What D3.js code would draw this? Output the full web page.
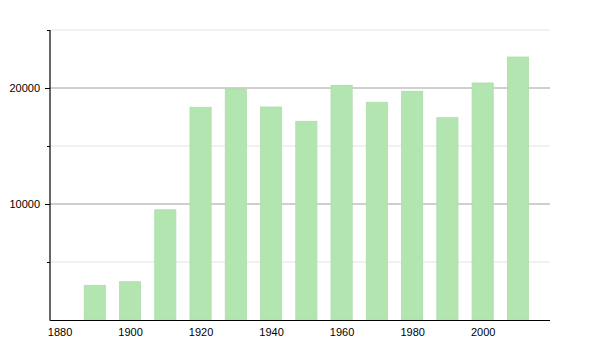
<!DOCTYPE html>
<html><head><meta charset="utf-8">
<script src="https://cdn.jsdelivr.net/npm/d3@7"></script>
<style>body{margin:0;background:#fff;} text{font-family:"Liberation Sans",Arial,sans-serif;}</style>
</head><body>
<svg id="c" width="600" height="350"></svg>
<script>
const years = [1890,1900,1910,1920,1930,1940,1950,1960,1970,1980,1990,2000,2010];
const population = [2990,3300,9500,18340,19920,18360,17130,20230,18770,19720,17440,20430,22670];
const xTicks = [1880,1900,1920,1940,1960,1980,2000];
const yMajor = [10000,20000];
const yMinor = [5000,15000,25000];

const svg = d3.select("#c");
const x = d3.scaleLinear().domain([1877.3, 2019.1]).range([50, 550]);
const y = d3.scaleLinear().domain([0, 25000]).range([320, 30]);

svg.append("g").selectAll("line").data(yMinor).join("line")
  .attr("x1",50).attr("x2",550).attr("y1",d=>y(d)).attr("y2",d=>y(d))
  .attr("stroke","#e3e3e3").attr("stroke-width",1);
svg.append("g").selectAll("line").data(yMajor).join("line")
  .attr("x1",50).attr("x2",550).attr("y1",d=>y(d)).attr("y2",d=>y(d))
  .attr("stroke","#a0a0a0").attr("stroke-width",1);

const bw = x(1896) - x(1890);
svg.append("g").selectAll("rect").data(years).join("rect")
  .attr("x",(d)=>x(d)-bw/2).attr("width",bw)
  .attr("y",(d,i)=>y(population[i])).attr("height",(d,i)=>y(0)-y(population[i]))
  .attr("fill","#b3e5b0").attr("stroke","#aedcab").attr("stroke-width",0.8);

// y axis
const ya = svg.append("g").attr("transform","translate(50,0)")
  .call(d3.axisLeft(y).tickValues(yMajor).tickSize(5).tickPadding(5).tickFormat(d3.format("d")));
ya.select(".domain").remove();
ya.selectAll("text").attr("font-size",11).attr("fill","#000").style("font-family","Liberation Sans, Arial");
svg.append("g").attr("transform","translate(50,0)")
  .call(d3.axisLeft(y).tickValues(yMinor).tickSize(3).tickFormat(""))
  .select(".domain").remove();
svg.append("line").attr("x1",50).attr("x2",50).attr("y1",y(25000)).attr("y2",y(0)+0.5)
  .attr("stroke","#000").attr("stroke-width",1.2);

// x axis
const xa = svg.append("g").attr("transform","translate(0,320)")
  .call(d3.axisBottom(x).tickValues(xTicks).tickSize(0).tickPadding(8).tickFormat(d3.format("d")));
xa.select(".domain").remove();
xa.selectAll("text").attr("font-size",11).attr("fill","#000").style("font-family","Liberation Sans, Arial");
svg.append("line").attr("x1",50).attr("x2",550).attr("y1",320.5).attr("y2",320.5)
  .attr("stroke","#000").attr("stroke-width",1.2);
</script>
</body></html>
